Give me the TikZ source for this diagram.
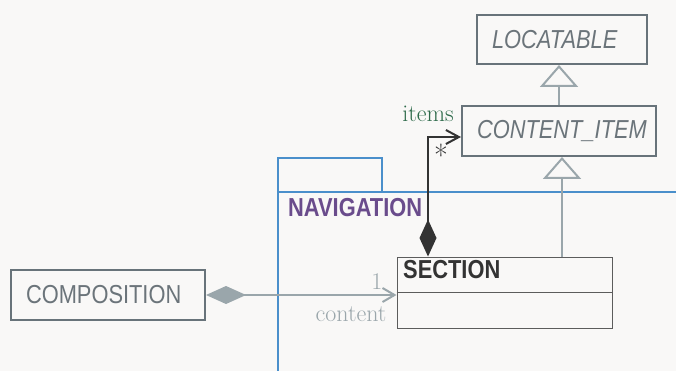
\documentclass[tikz,border=0pt]{standalone}
\usepackage{fontspec}
\usepackage{tikz}
\usetikzlibrary{arrows.meta}
\newfontfamily\umlfont[FakeStretch=0.84]{Liberation Sans}
\definecolor{paper}{HTML}{F9F8F7}
\definecolor{boxline}{HTML}{68737A}
\definecolor{boxtext}{HTML}{6B747A}
\definecolor{linkgray}{HTML}{9AA6AB}
\definecolor{clusterblue}{HTML}{4A8FCB}
\definecolor{navpurple}{HTML}{6A4C8C}
\definecolor{rolegreen}{HTML}{2D6A4A}
\definecolor{darkline}{HTML}{333333}
\tikzset{
  classbox/.style={draw=boxline, line width=2pt, minimum height=50pt, inner xsep=15pt, inner ysep=0pt, align=left, text=boxtext, font=\umlfont\fontsize{26}{26}\selectfont},
  deferred/.style={font=\umlfont\itshape\fontsize{26}{26}\selectfont},
  inherit/.style={draw=linkgray, line width=2pt, -{Triangle[open, length=22pt, width=38pt, fill=paper]}},
  role/.style={font=\fontsize{24}{24}\selectfont, inner sep=0pt},
}

\begin{document}
\begin{tikzpicture}[x=1pt, y=-1pt]
	\fill[paper] (0,0) rectangle (676,371);
	\useasboundingbox (0,0) rectangle (676,371);
	% cluster
	\draw[clusterblue, line width=2pt] (278,371) -- (278,158) -- (382,158) -- (382,192);
	\draw[clusterblue, line width=2pt] (278,192) -- (676,192);
	\node[font=\umlfont\bfseries\fontsize{26}{26}\selectfont, text=navpurple, anchor=west, inner sep=0pt] (navigation) at (288,208) {NAVIGATION};
	% classes
	\node[classbox, deferred, text width=140pt, minimum height=49pt] (locatable) at (562,39.5) {LOCATABLE};
	\node[classbox, deferred, text width=164pt] (contentitem) at (559,131) {CONTENT\_ITEM};
	\node[classbox, text width=164pt] (composition) at (108,295) {COMPOSITION};
	\node[draw=darkline!80, line width=1pt, minimum width=215pt, minimum height=71pt] (section) at (504.5,292.5) {};
	\draw[darkline!80, line width=1pt] (section.west) -- (section.east);
	\node[font=\umlfont\bfseries\fontsize{26}{26}\selectfont, text=darkline, anchor=west, inner sep=0pt] (sectionname) at (403,270) {SECTION};
	% relations
	\draw[inherit] (contentitem.north) -- (contentitem.north |- locatable.south);
	\draw[inherit] ([xshift=57.5pt]section.north) -- ([xshift=3pt]contentitem.south);
	\draw[darkline, line width=2pt, {Diamond[length=37pt, width=17pt]}-{Straight Barb[length=13pt, width=14pt]}] ([xshift=-76.5pt]section.north) |- ([yshift=-6pt]contentitem.west);
	\node[role, text=rolegreen] (itemsrole) at (428,114) {items};
	\node[role, text=darkline, font=\fontsize{30}{30}\selectfont] (itemsmult) at (441,155) {*};
	\draw[linkgray, line width=2pt, {Diamond[length=40pt, width=18pt]}-{Straight Barb[length=12pt, width=14pt]}] (composition.east) -- (composition.east -| section.west);
	\node[role, text=linkgray] (contentmult) at (377,282) {1};
	\node[role, text=linkgray] (contentrole) at (351,314) {content};
\end{tikzpicture}
\end{document}
